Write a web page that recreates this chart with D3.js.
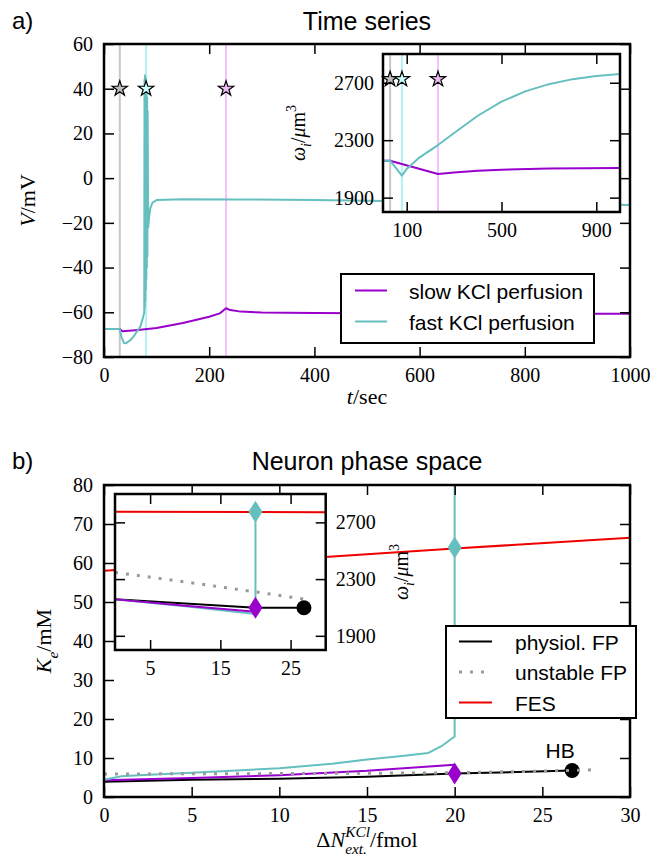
<!DOCTYPE html>
<html>
<head>
<meta charset="utf-8">
<script src="https://cdn.jsdelivr.net/npm/d3@7"></script>
<style>
body { margin: 0; background: #fff; }
</style>
</head>
<body>
<svg id="fig" width="652" height="859"></svg>
<script>
/* ---------- data ---------- */

// marker times (vertical lines + stars)
var starTimes = [30, 80, 232];
var starFills = ["#bdbdbd", "#ccffff", "#eebbf5"];
var markerCols = ["#c8c8c8", "#b4f2f2", "#f2c4fa"];

// a) membrane potential
var slowT = [0, 30, 35, 60, 100, 150, 200, 220, 232, 240, 260, 300, 400, 600, 800, 1000];
var slowV = [-67.5, -67.5, -68.5, -68, -67, -64.8, -62, -60.5, -58.2, -59, -59.7, -60.1, -60.3, -60.5, -60.6, -60.7];
var fastT = [0, 30, 33, 38, 42, 50, 56, 63, 69, 74, 76.5, 77, 77.5, 78, 78.5, 79, 79.5, 80, 80.5, 81, 81.5, 82, 82.5, 83,
             84, 86, 88, 92, 100, 150, 250, 400, 600, 800, 1000];
var fastV = [-67.5, -67.5, -71, -73.7, -73.8, -72.5, -70.9, -68.5, -66.4, -62.5, -60, 44, -58, 46, -55, 45, -50, 43, -45, 40, -40, 36, -35, 30,
             -22, -17, -13.5, -11, -9.8, -9.4, -9.5, -9.8, -10.5, -11.2, -12];

// a) inset: cell volume
var slowWT = [0, 30, 232, 300, 400, 500, 700, 1000];
var slowW = [2157, 2157, 2064, 2075, 2088, 2095, 2102, 2106];
var fastWT = [0, 30, 80, 100, 150, 232, 300, 400, 500, 600, 700, 800, 900, 1000];
var fastW = [2157, 2157, 2053, 2100, 2175, 2266, 2350, 2470, 2568, 2640, 2690, 2725, 2747, 2760];
var starV = 40, starW = 2725;

// b) phase space, main (Ke vs dN)
var fesN = [0, 10, 20, 30], fesK = [58, 60.8, 63.7, 66.5];
var unstN = [0, 10, 20, 26.7, 28], unstK = [5.9, 6.0, 6.2, 6.8, 7.0];
var physN = [0, 5, 10, 15, 20, 26.7], physK = [3.9, 4.4, 4.7, 5.2, 6.0, 6.8];
var slowN = [0, 5, 10, 15, 20], slowK = [4.3, 4.9, 5.6, 6.7, 8.3];
var fastN = [0, 1, 2, 5, 10, 13, 15, 17, 18.5, 19.3, 20, 20];
var fastK = [4.4, 5.3, 5.6, 6.2, 7.4, 8.5, 9.6, 10.5, 11.3, 13.2, 15.5, 80];
var diamN = 20, diamFastK = 64.0, diamSlowK = 6.0;
var hbN = 26.7, hbK = 6.8;

// b) inset (omega vs dN)
var fesIN = [0, 30], fesIW = [2775, 2772];
var unstIN = [0, 10, 20, 26.9], unstIW = [2347, 2280, 2210, 2159];
var physIN = [0, 10, 20, 26.9], physIW = [2157, 2128, 2098, 2098];
var slowIN = [0, 10, 20], slowIW = [2157, 2112, 2070];
var fastIN = [0, 10, 20, 20], fastIW = [2157, 2108, 2054, 2775];
var diamFastW = 2775, diamSlowW = 2098, hbW = 2098;

// ticks
var xTicksA = [0, 200, 400, 600, 800, 1000];
var yTicksA = [-80, -60, -40, -20, 0, 20, 40, 60];
var xTicksAI = [100, 500, 900];
var yTicksI = [1900, 2300, 2700];
var xTicksB = [0, 5, 10, 15, 20, 25, 30];
var yTicksB = [0, 10, 20, 30, 40, 50, 60, 70, 80];
var xTicksBI = [5, 15, 25];

var legendA = ["slow KCl perfusion", "fast KCl perfusion"];
var legendB = ["physiol. FP", "unstable FP", "FES"];

/* ---------- styles ---------- */
var cFast = "#66bfbf", cSlow = "#9900cc", cFES = "#ee0000", cUnst = "#9a9a9a";
var SERIF = "'Liberation Serif', 'Times New Roman', serif";
var SANS = "'Liberation Sans', Arial, Helvetica, sans-serif";
var fmt = d3.format("d");

var svg = d3.select("#fig");

function pts(a, b) { return d3.zip(a, b); }

function frame(g, x, y, xt, yt, o) {
  var l = x.range()[0], r = x.range()[1], b = y.range()[0], t = y.range()[1];
  var axes = [
    g.append("g").attr("transform", "translate(0," + b + ")")
      .call(d3.axisBottom(x).tickValues(xt).tickSize(-10).tickPadding(o.xPad || 11).tickFormat(o.xLab ? fmt : "")),
    g.append("g").attr("transform", "translate(0," + t + ")")
      .call(d3.axisTop(x).tickValues(xt).tickSize(-10).tickFormat("")),
    g.append("g").attr("transform", "translate(" + l + ",0)")
      .call(d3.axisLeft(y).tickValues(yt).tickSize(-10).tickPadding(o.yPad || 11).tickFormat(o.yLab === "left" ? fmt : "")),
    g.append("g").attr("transform", "translate(" + r + ",0)")
      .call(d3.axisRight(y).tickValues(yt).tickSize(-10).tickPadding(o.yPad || 10).tickFormat(o.yLab === "right" ? fmt : ""))
  ];
  axes.forEach(function(a) {
    a.select(".domain").remove();
    a.selectAll(".tick line").attr("stroke", "#000").attr("stroke-width", 1.5);
    a.selectAll("text").attr("font-family", SERIF).attr("font-size", 20).attr("fill", "#000");
  });
  g.append("rect").attr("x", l).attr("y", t).attr("width", r - l).attr("height", b - t)
    .attr("fill", "none").attr("stroke", "#000").attr("stroke-width", 2.5);
}

function mathLabel(parent, x, y, angle, parts, size) {
  var g = parent.append("g").attr("transform", "translate(" + x + "," + y + ") rotate(" + angle + ")");
  var inner = g.append("g");
  var cx = 0, lastW = 0;
  parts.forEach(function(p) {
    var small = p.sub || p.sup;
    var px = p.stack ? cx - lastW : cx;
    var t = inner.append("text")
      .attr("x", px)
      .attr("y", p.sub ? size * 0.3 : p.sup ? -size * 0.45 : 0)
      .attr("font-family", SERIF)
      .attr("font-size", small ? size * 0.7 : size)
      .attr("font-style", p.it ? "italic" : null)
      .text(p.t);
    var w = t.node().getComputedTextLength();
    cx = p.stack ? px + Math.max(w, lastW) : px + w;
    lastW = w;
  });
  inner.attr("transform", "translate(" + (-cx / 2) + ",0)");
}

var omegaLabel = [{t: "ω", it: 1}, {t: "i", it: 1, sub: 1}, {t: "/"}, {t: "μ", it: 1}, {t: "m"}, {t: "3", sup: 1}];
var star = d3.symbol().type(d3.symbolStar).size(72);
var thinDiamond = "M0,-11L7,0L0,11L-7,0Z";

function addPath(g, data, x, y, col, w, dash) {
  g.append("path").datum(data)
    .attr("fill", "none").attr("stroke", col).attr("stroke-width", w)
    .attr("stroke-dasharray", dash || null)
    .attr("stroke-linejoin", "round")
    .attr("d", d3.line().x(function(d) { return x(d[0]); }).y(function(d) { return y(d[1]); }));
}

/* ================= a) Time series ================= */
var xA = d3.scaleLinear().domain([0, 1000]).range([104, 630]);
var yA = d3.scaleLinear().domain([-80, 60]).range([357, 44]);
var gA = svg.append("g");

starTimes.forEach(function(t, i) {
  gA.append("line").attr("x1", xA(t)).attr("x2", xA(t)).attr("y1", yA(-80)).attr("y2", yA(60))
    .attr("stroke", markerCols[i]).attr("stroke-width", 2);
});
addPath(gA, pts(slowT, slowV), xA, yA, cSlow, 2);
addPath(gA, pts(fastT, fastV), xA, yA, cFast, 2);
starTimes.forEach(function(t, i) {
  gA.append("path").attr("d", star).attr("transform", "translate(" + xA(t) + "," + yA(starV) + ")")
    .attr("fill", starFills[i]).attr("stroke", "#000").attr("stroke-width", 1.2);
});
frame(gA, xA, yA, xTicksA, yTicksA, {xLab: true, yLab: "left"});

gA.append("text").attr("x", 12).attr("y", 29).attr("font-family", SANS).attr("font-size", 24).text("a)");
gA.append("text").attr("x", 367).attr("y", 30).attr("text-anchor", "middle")
  .attr("font-family", SANS).attr("font-size", 25).text("Time series");
mathLabel(gA, 35, 200.5, -90, [{t: "V", it: 1}, {t: "/mV"}], 22);
mathLabel(gA, 367, 404, 0, [{t: "t", it: 1}, {t: "/sec"}], 22);

// inset a
var xAI = d3.scaleLinear().domain([0, 1000]).range([383, 620]);
var yAI = d3.scaleLinear().domain([1800, 2900]).range([212, 54]);
var gAI = svg.append("g");
gAI.append("rect").attr("x", 382).attr("y", 54).attr("width", 238).attr("height", 158).attr("fill", "#fff");
starTimes.forEach(function(t, i) {
  gAI.append("line").attr("x1", xAI(t)).attr("x2", xAI(t)).attr("y1", 54).attr("y2", 212)
    .attr("stroke", markerCols[i]).attr("stroke-width", 2);
});
addPath(gAI, pts(slowWT, slowW), xAI, yAI, cSlow, 2);
addPath(gAI, pts(fastWT, fastW), xAI, yAI, cFast, 2);
starTimes.forEach(function(t, i) {
  gAI.append("path").attr("d", star).attr("transform", "translate(" + xAI(t) + "," + yAI(starW) + ")")
    .attr("fill", starFills[i]).attr("stroke", "#000").attr("stroke-width", 1.2);
});
frame(gAI, xAI, yAI, xTicksAI, yTicksI, {xLab: true, yLab: "left", yPad: 9});
mathLabel(gAI, 305, 133, -90, omegaLabel, 20);

// legend a
var lgA = svg.append("g");
lgA.append("rect").attr("x", 341).attr("y", 274).attr("width", 253).attr("height", 69)
  .attr("fill", "#fff").attr("stroke", "#000").attr("stroke-width", 2);
[cSlow, cFast].forEach(function(c, i) {
  var yy = 290.5 + i * 31;
  lgA.append("line").attr("x1", 355).attr("x2", 387).attr("y1", yy).attr("y2", yy).attr("stroke", c).attr("stroke-width", 2);
  lgA.append("text").attr("x", 409).attr("y", yy + 8.5).attr("font-family", SANS).attr("font-size", 21).text(legendA[i]);
});

/* ================= b) Neuron phase space ================= */
var xB = d3.scaleLinear().domain([0, 30]).range([104, 630]);
var yB = d3.scaleLinear().domain([0, 80]).range([797, 485]);
var gB = svg.append("g");

addPath(gB, pts(fesN, fesK), xB, yB, cFES, 2);
addPath(gB, pts(physN, physK), xB, yB, "#000", 2);
addPath(gB, pts(slowN, slowK), xB, yB, cSlow, 2);
addPath(gB, pts(fastN, fastK), xB, yB, cFast, 2);
gB.append("circle").attr("cx", xB(hbN)).attr("cy", yB(hbK)).attr("r", 7.5).attr("fill", "#000");
addPath(gB, pts(unstN, unstK), xB, yB, cUnst, 3, "3,8");
gB.append("path").attr("d", thinDiamond).attr("transform", "translate(" + xB(diamN) + "," + yB(diamFastK) + ")").attr("fill", cFast);
gB.append("path").attr("d", thinDiamond).attr("transform", "translate(" + xB(diamN) + "," + yB(diamSlowK) + ")").attr("fill", cSlow);
frame(gB, xB, yB, xTicksB, yTicksB, {xLab: true, yLab: "left"});

gB.append("text").attr("x", 12).attr("y", 469).attr("font-family", SANS).attr("font-size", 24).text("b)");
gB.append("text").attr("x", 367).attr("y", 470).attr("text-anchor", "middle")
  .attr("font-family", SANS).attr("font-size", 25).text("Neuron phase space");
gB.append("text").attr("x", xB(hbN) - 12).attr("y", 758).attr("text-anchor", "middle")
  .attr("font-family", SANS).attr("font-size", 21).text("HB");
mathLabel(gB, 51, 641, -90, [{t: "K", it: 1}, {t: "e", it: 1, sub: 1}, {t: "/mM"}], 22);
mathLabel(gB, 367, 847, 0, [{t: "Δ"}, {t: "N", it: 1}, {t: "KCl", it: 1, sup: 1}, {t: "ext.", it: 1, sub: 1, stack: 1}, {t: "/fmol"}], 22);

// inset b
var xBI = d3.scaleLinear().domain([0, 30]).range([115, 325.7]);
var yBI = d3.scaleLinear().domain([1800, 2900]).range([650, 494]);
var gBI = svg.append("g");
gBI.append("rect").attr("x", 115).attr("y", 494).attr("width", 210.7).attr("height", 156).attr("fill", "#fff");
addPath(gBI, pts(fesIN, fesIW), xBI, yBI, cFES, 2);
addPath(gBI, pts(unstIN, unstIW), xBI, yBI, cUnst, 3, "3,8");
addPath(gBI, pts(physIN, physIW), xBI, yBI, "#000", 2);
addPath(gBI, pts(fastIN, fastIW), xBI, yBI, cFast, 2);
addPath(gBI, pts(slowIN, slowIW), xBI, yBI, cSlow, 2);
gBI.append("path").attr("d", thinDiamond).attr("transform", "translate(" + xBI(diamN) + "," + yBI(diamFastW) + ")").attr("fill", cFast);
gBI.append("path").attr("d", thinDiamond).attr("transform", "translate(" + xBI(diamN) + "," + yBI(diamSlowW) + ")").attr("fill", cSlow);
gBI.append("circle").attr("cx", xBI(26.9)).attr("cy", yBI(hbW)).attr("r", 7.5).attr("fill", "#000");
frame(gBI, xBI, yBI, xTicksBI, yTicksI, {xLab: true, yLab: "right"});
mathLabel(gBI, 408, 572, -90, omegaLabel, 20);

// legend b
var lgB = svg.append("g");
lgB.append("rect").attr("x", 446).attr("y", 626).attr("width", 190).attr("height", 92)
  .attr("fill", "#fff").attr("stroke", "#000").attr("stroke-width", 2);
[["#000", null, 2], [cUnst, "3,8", 3], [cFES, null, 2]].forEach(function(s, i) {
  var yy = 641.5 + i * 30.5;
  lgB.append("line").attr("x1", 459).attr("x2", 492).attr("y1", yy).attr("y2", yy)
    .attr("stroke", s[0]).attr("stroke-dasharray", s[1]).attr("stroke-width", s[2]);
  lgB.append("text").attr("x", 515).attr("y", yy + 8).attr("font-family", SANS).attr("font-size", 21).text(legendB[i]);
});
</script>
</body>
</html>
